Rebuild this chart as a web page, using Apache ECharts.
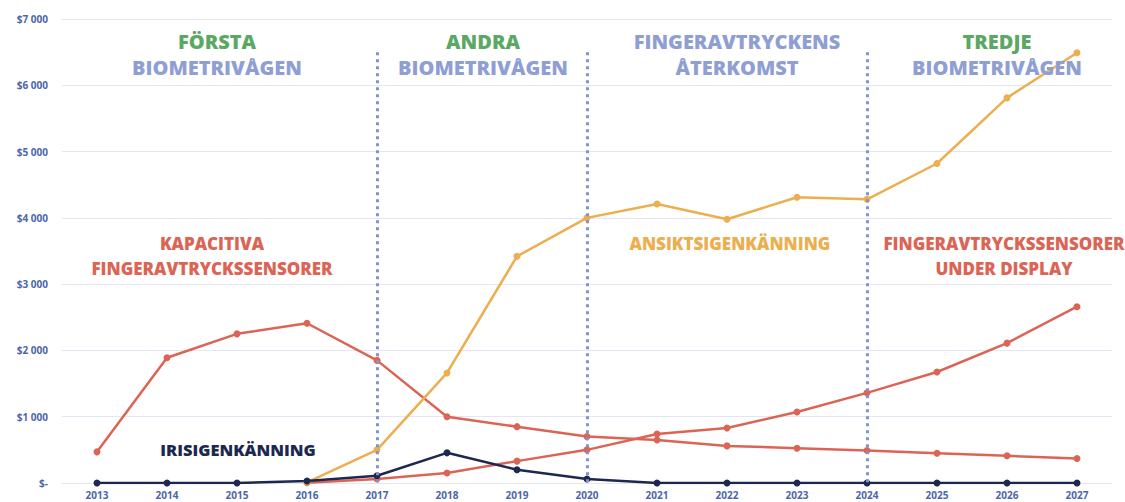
<!DOCTYPE html>
<html><head><meta charset="utf-8">
<script src="https://cdn.jsdelivr.net/npm/echarts@6/dist/echarts.min.js"></script>
<style>html,body{margin:0;padding:0;background:#fff}#c{width:1125px;height:502px}</style>
</head><body><div id="c"></div>
<script>
const years = ['2013','2014','2015','2016','2017','2018','2019','2020','2021','2022','2023','2024','2025','2026','2027'];
const capacitive = [470,1890,2250,2410,1850,1000,850,700,650,560,525,490,450,410,370];
const underDisplay = [null,null,null,5,60,150,330,500,740,830,1070,1360,1675,2110,2660];
const faceRec = [null,null,null,10,500,1660,3420,4000,4210,3980,4310,4280,4820,5810,6490];
const iris = [0,0,0,30,110,455,200,60,0,0,0,0,0,0,0];
const yTickLabels = ['$-','$1 000','$2 000','$3 000','$4 000','$5 000','$6 000','$7 000'];
const dividerYears = ['2017','2020','2024'];

const RED='#dc6455', ORANGE='#ecae4e', NAVY='#1c2850', GREEN='#5aa862', LAV='#8f9fd4';
const AX='#4d66a8';
const FONT='"Open Sans", sans-serif';

const chart = echarts.init(document.getElementById('c'), null, {renderer:'svg'});
function lineSeries(name, data, color, extra){
  return Object.assign({
    name, type:'line', data, color,
    symbol:'circle', symbolSize:7, showSymbol:true,
    lineStyle:{width:2.5,color}, itemStyle:{color},
    connectNulls:false, animation:false, z:3
  }, extra||{});
}
const divider = {
  silent:true, symbol:['none','none'], label:{show:false},
  lineStyle:{type:[3,4], color:'#7f93cc', width:3},
  data: dividerYears.map(y=>[{coord:[y,6500]},{coord:[y,0]}])
};
function txt(x,y,text,color,size){
  return {type:'text', x, y, style:{text, fill:color, font:`800 ${size}px ${FONT}`, align:'center', verticalAlign:'middle'}, z:10};
}
chart.setOption({
  animation:false,
  grid:{left:62,right:13,top:19,bottom:19,containLabel:false},
  xAxis:{type:'category', data:years, boundaryGap:true,
    axisLine:{show:true,lineStyle:{color:'#e3e7f3',width:1}}, axisTick:{show:false},
    axisLabel:{color:AX,fontWeight:'bold',fontSize:10,fontFamily:FONT,margin:7}},
  yAxis:{type:'value', min:0, max:7000, interval:1000,
    axisLine:{show:false}, axisTick:{show:false},
    splitLine:{lineStyle:{color:'#e3e7f3',width:1}},
    axisLabel:{color:AX,fontWeight:'bold',fontSize:10,fontFamily:FONT,margin:14,
      formatter:(v)=>yTickLabels[Math.round(v/1000)]}},
  series:[
    lineSeries('Kapacitiva', capacitive, RED, {markLine:divider}),
    lineSeries('Under display', underDisplay, RED),
    lineSeries('Ansiktsigenkänning', faceRec, ORANGE),
    lineSeries('Irisigenkänning', iris, NAVY)
  ],
  graphic:[
    txt(217,41,'FÖRSTA',GREEN,20), txt(217,67,'BIOMETRIVÅGEN',LAV,20),
    txt(483,41,'ANDRA',GREEN,20), txt(483,67,'BIOMETRIVÅGEN',LAV,20),
    txt(737,41,'FINGERAVTRYCKENS',LAV,20), txt(737,67,'ÅTERKOMST',LAV,20),
    txt(997,41,'TREDJE',GREEN,20), txt(997,67,'BIOMETRIVÅGEN',LAV,20),
    txt(212,243,'KAPACITIVA',RED,17), txt(212,268,'FINGERAVTRYCKSSENSORER',RED,17),
    txt(730,243,'ANSIKTSIGENKÄNNING',ORANGE,17),
    txt(1004,243,'FINGERAVTRYCKSSENSORER',RED,17), txt(1004,268,'UNDER DISPLAY',RED,17),
    txt(238,449,'IRISIGENKÄNNING',NAVY,16.5)
  ]
});
</script></body></html>
